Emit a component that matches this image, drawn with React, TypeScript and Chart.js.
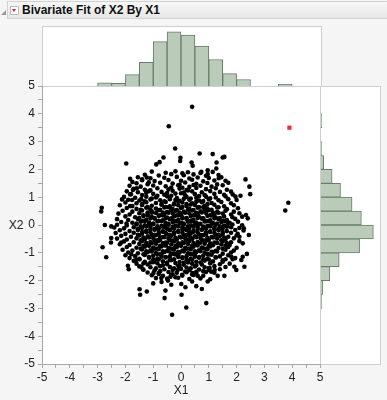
import React, { useEffect, useRef } from "react";
import { Chart, registerables } from "chart.js";

Chart.register(...registerables);

const TITLE = "Bivariate Fit of X2 By X1";
const X_LABEL = "X1";
const Y_LABEL = "X2";
const AXIS_MIN = -5;
const AXIS_MAX = 5;

// histogram bins (0.5 wide), given by their centres
const BIN_CENTERS = [-2.75, -2.25, -1.75, -1.25, -0.75, -0.25, 0.25, 0.75, 1.25, 1.75, 2.25, 2.75, 3.25, 3.75];
const X1_COUNTS = [6, 5, 21, 44, 82, 100, 94, 74, 49, 23, 12, 0, 0, 3];
const X2_COUNTS = [2, 4, 20, 41, 87, 118, 91, 70, 44, 25, 6, 2, 0, 2];
const X1_HIST_MAX = 111;
const X2_HIST_MAX = 133;

// highlighted (selected) row
const SELECTED_POINTS: number[][] = [[3.9, 3.5]];

// scatter points [X1, X2]
const SCATTER_POINTS: number[][] = [
  [0.40,4.25],[-0.44,3.55],[-0.21,2.75],[0.67,2.57],[1.14,2.55],[1.50,2.43],[1.56,2.45],[-0.63,2.43],[-0.02,2.42],[-0.03,2.30],
  [-1.97,2.21],[-0.89,2.18],[-0.77,2.26],[0.38,2.25],[0.42,2.13],[1.28,2.25],[1.27,2.03],[0.96,1.97],[1.14,1.91],[0.96,1.83],
  [0.73,1.91],[1.36,1.68],[1.60,1.59],[-1.83,1.66],[2.32,1.64],[2.46,1.38],[2.49,1.11],[2.14,1.05],[1.86,1.10],[1.96,1.02],
  [3.86,0.80],[3.75,0.52],[-2.12,0.92],[-2.85,0.62],[-2.87,0.49],[-2.74,0.0],[-2.51,-0.05],[-2.82,-0.80],[-2.69,-1.16],[-2.51,-0.47],
  [-2.52,-0.63],[-2.15,-0.63],[-1.96,0.05],[2.34,0.36],[2.40,0.24],[2.26,-0.12],[2.44,-0.36],[2.22,-0.66],[2.04,-0.32],[2.10,-0.42],
  [2.37,-1.04],[2.22,-1.14],[2.17,-1.26],[1.86,-1.23],[1.81,-1.14],[2.28,-1.50],[1.92,-1.50],[1.99,-1.62],[1.50,-1.32],[1.56,-1.83],
  [1.32,-1.83],[0.96,-2.03],[0.40,-2.03],[0.91,-2.81],[1.03,-1.55],[1.21,-1.62],[1.09,-1.68],[0.55,-1.68],[0.60,-1.83],[0.42,-1.73],
  [-1.40,1.64],[-1.23,1.71],[-1.16,1.54],[-1.73,1.26],[-1.59,1.32],[-1.83,1.10],[-1.76,0.90],[-1.83,0.68],[-1.43,0.93],
  [-1.91,-1.47],[-1.88,-1.59],[-1.79,-1.05],[-1.61,-1.26],[-1.49,-1.23],[-1.35,-1.38],[-1.43,-1.50],[-1.37,-1.59],[-0.99,-1.73],[-0.80,-1.76],
  [-0.71,-1.91],[-0.47,-2.00],[-0.38,-1.86],[-1.49,-2.31],[-1.47,-2.51],[-1.23,-2.39],[-0.56,-2.36],[-0.59,-2.63],[0.19,-2.97],[-0.32,-3.23],
  [0.01,-2.12],[0.16,-2.24],[-0.12,-1.62],[0.04,-1.79],[0.02,-2.51],
  [-1.05,1.92],[-0.55,1.88],[-0.2,1.93],[0.25,1.9],[0.7,1.87],[0.05,1.86],
  [-1.3,1.81],[-0.8,1.78],[-0.35,1.83],[0.1,1.79],[0.45,1.82],[0.9,1.77],[1.35,1.8],
  [-1.55,1.72],[-1.1,1.68],[-0.6,1.7],[-0.15,1.73],[0.3,1.67],[0.6,1.71],[1.0,1.69],[1.45,1.72],
  [-1.4,1.61],[-0.95,1.58],[-0.45,1.62],[0.0,1.59],[0.4,1.63],[0.8,1.57],[1.2,1.6],[-1.75,1.55],
  [-1.6,1.5],[-1.2,1.47],[-0.75,1.52],[-0.3,1.49],[0.15,1.53],[0.55,1.48],[0.95,1.51],[1.3,1.46],[1.7,1.52],[-0.05,1.45],
  [-1.85,1.41],[-1.45,1.38],[-1.0,1.42],[-0.55,1.39],[-0.1,1.43],[0.3,1.37],[0.7,1.41],[1.1,1.38],[1.5,1.43],[-0.35,1.35],[0.45,1.44],
  [-1.7,1.3],[-1.3,1.27],[-0.85,1.32],[-0.45,1.28],[-0.05,1.31],[0.2,1.26],[0.55,1.33],[0.9,1.29],[1.25,1.32],[1.65,1.27],[-1.1,1.25],[0.05,1.34],
  [-1.95,1.21],[-1.55,1.18],[-1.15,1.22],[-0.7,1.19],[-0.3,1.23],[0.1,1.17],[0.4,1.21],[0.75,1.18],[1.05,1.22],[1.4,1.19],[1.8,1.2],[-0.5,1.15],[0.25,1.24],
  [-1.8,1.11],[-1.4,1.08],[-1.0,1.12],[-0.6,1.09],[-0.2,1.13],[0.15,1.07],[0.5,1.11],[0.85,1.08],[1.2,1.12],[1.55,1.09],[-0.85,1.05],[0.0,1.14],[0.65,1.04],[-1.25,1.15],
  [-2.05,1.01],[-1.65,0.98],[-1.25,1.02],[-0.9,0.99],[-0.5,1.03],[-0.15,0.97],[0.2,1.01],[0.55,0.98],[0.9,1.02],[1.25,0.99],[1.6,1.03],[-0.35,1.05],[0.35,0.95],[1.05,0.96],[-1.05,0.95],
  [-1.9,0.91],[-1.5,0.88],[-1.1,0.92],[-0.75,0.89],[-0.4,0.93],[-0.05,0.87],[0.3,0.91],[0.65,0.88],[1.0,0.92],[1.35,0.89],[1.7,0.93],[2.0,0.9],[-1.3,0.85],[-0.6,0.85],[0.1,0.94],[0.8,0.86],[-0.2,0.9],
  [-2.0,0.81],[-1.6,0.78],[-1.25,0.82],[-0.9,0.79],[-0.55,0.83],[-0.25,0.77],[0.05,0.81],[0.4,0.78],[0.75,0.82],[1.1,0.79],[1.45,0.83],[1.8,0.78],[-1.4,0.75],[-0.7,0.75],[0.2,0.75],[0.95,0.75],[-0.1,0.84],[0.55,0.84],
  [-2.2,0.71],[-1.75,0.68],[-1.4,0.72],[-1.05,0.69],[-0.7,0.73],[-0.4,0.67],[-0.1,0.71],[0.2,0.68],[0.5,0.72],[0.85,0.69],[1.2,0.73],[1.55,0.67],[1.9,0.71],[-1.2,0.65],[-0.55,0.65],[0.05,0.65],[0.65,0.65],[1.35,0.64],[-0.25,0.74],[0.35,0.74],
  [-1.95,0.61],[-1.6,0.58],[-1.25,0.62],[-0.9,0.59],[-0.6,0.63],[-0.3,0.57],[0.0,0.61],[0.3,0.58],[0.6,0.62],[0.95,0.59],[1.3,0.63],[1.65,0.57],[2.05,0.6],[-1.45,0.55],[-0.75,0.55],[-0.15,0.54],[0.45,0.54],[1.1,0.55],[-1.1,0.56],[0.8,0.64],[-0.45,0.64],
  [-2.1,0.51],[-1.75,0.48],[-1.4,0.52],[-1.05,0.49],[-0.8,0.53],[-0.5,0.47],[-0.2,0.51],[0.1,0.48],[0.4,0.52],[0.7,0.49],[1.0,0.53],[1.3,0.47],[1.6,0.51],[1.9,0.48],[-1.2,0.45],[-0.65,0.45],[-0.05,0.45],[0.55,0.44],[1.15,0.45],[-0.35,0.54],[0.25,0.55],[0.85,0.55],
  [-2.25,0.41],[-1.85,0.38],[-1.5,0.42],[-1.2,0.39],[-0.9,0.43],[-0.6,0.37],[-0.3,0.41],[0.0,0.38],[0.3,0.42],[0.6,0.39],[0.9,0.43],[1.2,0.37],[1.5,0.41],[1.8,0.38],[2.1,0.42],[-1.35,0.35],[-0.75,0.35],[-0.15,0.35],[0.45,0.35],[1.05,0.35],[-1.05,0.44],[-0.45,0.44],[0.15,0.44],[0.75,0.45],[1.35,0.44],
  [-2.0,0.31],[-1.65,0.28],[-1.35,0.32],[-1.05,0.29],[-0.8,0.33],[-0.5,0.27],[-0.25,0.31],[0.05,0.28],[0.35,0.32],[0.65,0.29],[0.95,0.33],[1.25,0.27],[1.55,0.31],[1.85,0.28],[-1.5,0.25],[-0.95,0.25],[-0.35,0.24],[0.2,0.25],[0.8,0.24],[1.4,0.25],[-1.2,0.34],[-0.65,0.34],[-0.1,0.34],[0.5,0.35],[1.1,0.34],[2.2,0.3],
  [-2.3,0.21],[-1.9,0.18],[-1.55,0.22],[-1.25,0.19],[-0.95,0.23],[-0.65,0.17],[-0.4,0.21],[-0.1,0.18],[0.2,0.22],[0.45,0.19],[0.75,0.23],[1.05,0.17],[1.35,0.21],[1.65,0.18],[1.95,0.22],[-1.4,0.15],[-0.8,0.15],[-0.25,0.14],[0.35,0.15],[0.9,0.14],[1.5,0.15],[-1.1,0.24],[-0.55,0.24],[0.05,0.24],[0.6,0.25],[1.2,0.24],
  [-2.15,0.11],[-1.75,0.08],[-1.45,0.12],[-1.15,0.09],[-0.85,0.13],[-0.55,0.07],[-0.3,0.11],[0.0,0.08],[0.25,0.12],[0.55,0.09],[0.85,0.13],[1.15,0.07],[1.45,0.11],[1.75,0.08],[2.05,0.12],[-1.6,0.05],[-1.0,0.05],[-0.45,0.04],[0.1,0.05],[0.7,0.04],[1.3,0.05],[-1.3,0.14],[-0.7,0.14],[-0.15,0.14],[0.4,0.15],[1.0,0.14],[1.6,0.14],
  [-2.3,0.01],[-1.95,-0.02],[-1.6,0.02],[-1.3,-0.01],[-1.0,0.03],[-0.7,-0.03],[-0.45,0.01],[-0.2,-0.02],[0.1,0.02],[0.35,-0.01],[0.65,0.03],[0.95,-0.03],[1.25,0.01],[1.55,-0.02],[1.85,0.02],[2.2,-0.01],[-1.45,-0.05],[-0.85,-0.05],[-0.3,-0.06],[0.25,-0.05],[0.8,-0.06],[1.4,-0.05],[-1.15,0.04],[-0.55,0.04],[-0.05,0.05],[0.5,0.04],[1.1,0.04],[1.7,0.05],
  [-2.4,-0.09],[-2.05,-0.12],[-1.7,-0.08],[-1.4,-0.11],[-1.1,-0.07],[-0.8,-0.13],[-0.55,-0.09],[-0.25,-0.12],[0.05,-0.08],[0.3,-0.11],[0.6,-0.07],[0.9,-0.13],[1.2,-0.09],[1.5,-0.12],[1.8,-0.08],[2.1,-0.11],[-1.55,-0.15],[-0.95,-0.15],[-0.4,-0.16],[0.15,-0.15],[0.75,-0.16],[1.35,-0.15],[-1.25,-0.05],[-0.65,-0.06],[-0.1,-0.05],[0.45,-0.06],[1.05,-0.05],[1.65,-0.06],
  [-2.2,-0.19],[-1.85,-0.22],[-1.55,-0.18],[-1.25,-0.21],[-0.95,-0.17],[-0.65,-0.23],[-0.4,-0.19],[-0.1,-0.22],[0.2,-0.18],[0.45,-0.21],[0.75,-0.17],[1.05,-0.23],[1.35,-0.19],[1.65,-0.22],[1.95,-0.18],[-1.4,-0.25],[-0.8,-0.25],[-0.25,-0.26],[0.3,-0.25],[0.9,-0.26],[1.5,-0.25],[-1.1,-0.15],[-0.5,-0.14],[0.05,-0.15],[0.6,-0.14],[1.2,-0.15],[2.25,-0.2],
  [-2.35,-0.29],[-2.0,-0.32],[-1.7,-0.28],[-1.4,-0.31],[-1.1,-0.27],[-0.8,-0.33],[-0.55,-0.29],[-0.25,-0.32],[0.05,-0.28],[0.35,-0.31],[0.6,-0.27],[0.9,-0.33],[1.2,-0.29],[1.5,-0.32],[1.8,-0.28],[-1.55,-0.35],[-0.95,-0.35],[-0.4,-0.36],[0.2,-0.35],[0.75,-0.36],[1.35,-0.35],[-1.25,-0.25],[-0.65,-0.24],[-0.1,-0.25],[0.45,-0.24],[1.05,-0.25],
  [-2.15,-0.39],[-1.8,-0.42],[-1.5,-0.38],[-1.2,-0.41],[-0.9,-0.37],[-0.65,-0.43],[-0.35,-0.39],[-0.05,-0.42],[0.25,-0.38],[0.5,-0.41],[0.8,-0.37],[1.1,-0.43],[1.4,-0.39],[1.7,-0.42],[2.0,-0.38],[-1.35,-0.45],[-0.75,-0.45],[-0.2,-0.46],[0.35,-0.45],[0.95,-0.46],[1.55,-0.45],[-1.05,-0.35],[-0.5,-0.34],[0.1,-0.35],[0.65,-0.34],[1.25,-0.35],
  [-2.3,-0.49],[-1.95,-0.52],[-1.6,-0.48],[-1.3,-0.51],[-1.0,-0.47],[-0.75,-0.53],[-0.45,-0.49],[-0.15,-0.52],[0.15,-0.48],[0.4,-0.51],[0.7,-0.47],[1.0,-0.53],[1.3,-0.49],[1.6,-0.52],[1.9,-0.48],[-1.45,-0.55],[-0.85,-0.55],[-0.3,-0.56],[0.25,-0.55],[0.85,-0.56],[1.45,-0.55],[-1.15,-0.45],[-0.6,-0.44],[0.0,-0.45],[0.55,-0.44],[1.15,-0.45],
  [-2.05,-0.59],[-1.7,-0.62],[-1.4,-0.58],[-1.1,-0.61],[-0.8,-0.57],[-0.55,-0.63],[-0.25,-0.59],[0.05,-0.62],[0.3,-0.58],[0.6,-0.61],[0.9,-0.57],[1.2,-0.63],[1.5,-0.59],[1.8,-0.62],[2.1,-0.58],[-1.25,-0.65],[-0.65,-0.65],[-0.1,-0.66],[0.45,-0.65],[1.05,-0.66],[1.65,-0.65],[-0.95,-0.55],[-0.4,-0.54],[0.2,-0.55],[0.75,-0.54],
  [-2.2,-0.69],[-1.85,-0.72],[-1.5,-0.68],[-1.2,-0.71],[-0.9,-0.67],[-0.6,-0.73],[-0.35,-0.69],[-0.05,-0.72],[0.25,-0.68],[0.55,-0.71],[0.85,-0.67],[1.15,-0.73],[1.45,-0.69],[1.75,-0.72],[-1.35,-0.75],[-0.75,-0.75],[-0.2,-0.76],[0.4,-0.75],[1.0,-0.76],[1.6,-0.75],[-1.05,-0.65],[-0.5,-0.64],[0.1,-0.65],[0.7,-0.64],[1.3,-0.65],
  [-1.95,-0.79],[-1.6,-0.82],[-1.3,-0.78],[-1.0,-0.81],[-0.7,-0.77],[-0.45,-0.83],[-0.15,-0.79],[0.15,-0.82],[0.45,-0.78],[0.75,-0.81],[1.05,-0.77],[1.35,-0.83],[1.7,-0.79],[2.0,-0.82],[-1.45,-0.85],[-0.85,-0.85],[-0.3,-0.86],[0.3,-0.85],[0.9,-0.86],[1.5,-0.85],[-1.15,-0.75],[-0.55,-0.74],[0.0,-0.75],[0.6,-0.74],
  [-2.1,-0.89],[-1.75,-0.92],[-1.4,-0.88],[-1.1,-0.91],[-0.8,-0.87],[-0.5,-0.93],[-0.25,-0.89],[0.05,-0.92],[0.35,-0.88],[0.65,-0.91],[0.95,-0.87],[1.25,-0.93],[1.6,-0.89],[1.9,-0.92],[-1.25,-0.95],[-0.65,-0.95],[-0.1,-0.96],[0.5,-0.95],[1.1,-0.96],[-0.95,-0.85],[-0.4,-0.84],[0.2,-0.85],[0.8,-0.84],
  [-1.9,-0.99],[-1.55,-1.02],[-1.2,-0.98],[-0.9,-1.01],[-0.6,-0.97],[-0.35,-1.03],[-0.05,-0.99],[0.25,-1.02],[0.55,-0.98],[0.85,-1.01],[1.15,-0.97],[1.5,-1.03],[1.8,-0.99],[-1.35,-1.05],[-0.75,-1.05],[-0.2,-1.06],[0.4,-1.05],[1.0,-1.06],[-1.05,-0.95],[-0.45,-0.94],[0.1,-0.95],[0.7,-0.94],[1.3,-0.95],
  [-2.0,-1.09],[-1.65,-1.12],[-1.3,-1.08],[-1.0,-1.11],[-0.7,-1.07],[-0.4,-1.13],[-0.1,-1.09],[0.2,-1.12],[0.5,-1.08],[0.8,-1.11],[1.1,-1.07],[1.4,-1.13],[1.7,-1.09],[-1.15,-1.15],[-0.55,-1.15],[0.05,-1.16],[0.65,-1.15],[1.25,-1.16],[-0.85,-1.05],[-0.25,-1.04],[0.35,-1.05],[0.95,-1.04],
  [-1.85,-1.19],[-1.5,-1.22],[-1.15,-1.18],[-0.85,-1.21],[-0.55,-1.17],[-0.25,-1.23],[0.05,-1.19],[0.35,-1.22],[0.65,-1.18],[0.95,-1.21],[1.25,-1.17],[1.6,-1.23],[1.95,-1.19],[-1.0,-1.25],[-0.4,-1.25],[0.2,-1.26],[0.8,-1.25],[-0.7,-1.14],[-0.1,-1.15],[0.5,-1.14],
  [-1.7,-1.29],[-1.3,-1.32],[-0.95,-1.28],[-0.65,-1.31],[-0.35,-1.27],[-0.05,-1.33],[0.25,-1.29],[0.55,-1.32],[0.85,-1.28],[1.15,-1.31],[1.5,-1.27],[-1.1,-1.35],[-0.5,-1.35],[0.1,-1.36],[0.7,-1.35],[-0.8,-1.24],[0.4,-1.25],[1.0,-1.24],
  [-1.6,-1.39],[-1.2,-1.42],[-0.85,-1.38],[-0.5,-1.41],[-0.2,-1.37],[0.1,-1.43],[0.4,-1.39],[0.75,-1.42],[1.05,-1.38],[1.4,-1.41],[1.75,-1.39],[-0.65,-1.45],[-0.05,-1.46],[0.55,-1.45],[-1.0,-1.34],[0.25,-1.35],
  [-1.5,-1.49],[-1.1,-1.52],[-0.75,-1.48],[-0.4,-1.51],[-0.1,-1.47],[0.2,-1.53],[0.5,-1.49],[0.85,-1.52],[1.2,-1.48],[1.6,-1.51],[-0.9,-1.56],[-0.25,-1.56],[0.35,-1.56],[1.0,-1.55],
  [-1.35,-1.61],[-0.95,-1.63],[-0.6,-1.59],[-0.3,-1.62],[0.0,-1.58],[0.3,-1.63],[0.65,-1.6],[1.0,-1.62],[1.4,-1.59],[-0.75,-1.66],[0.15,-1.67],[0.8,-1.66],
  [-1.2,-1.71],[-0.8,-1.73],[-0.45,-1.69],[-0.15,-1.72],[0.2,-1.7],[0.55,-1.73],[0.9,-1.69],[1.2,-1.72],[-0.3,-1.77],[0.4,-1.78],
  [-1.05,-1.81],[-0.65,-1.83],[-0.35,-1.79],[0.05,-1.82],[0.45,-1.8],[0.8,-1.83],[-0.2,-1.88],
  [-0.9,-1.91],[-0.5,-1.93],[-0.1,-1.9],[0.3,-1.94],[0.7,-1.92],[1.05,-1.95],
  [-1.0,-2.1],[-0.35,-2.15],[0.55,-2.2],[-0.7,-2.05],[0.75,-2.3]
];

const FONT = "'Liberation Sans', Arial, sans-serif";
const TEXT_COLOR = "#222222";
const BAR_FILL = "rgb(186,203,186)";
const BAR_EDGE = "rgb(104,124,104)";
const FRAME = "#cfcfcf";
const AXIS_COLOR = "#a8a8a8";
const BG = "#f5f5f5";

export default function App() {
  const mainRef = useRef<HTMLCanvasElement>(null);
  const topRef = useRef<HTMLCanvasElement>(null);
  const rightRef = useRef<HTMLCanvasElement>(null);

  useEffect(() => {
    const charts: Chart[] = [];
    const tickLabel = (v: any) => (Number.isInteger(Number(v)) ? String(v) : "");

    if (topRef.current) {
      charts.push(
        new Chart(topRef.current, {
          type: "bar",
          data: {
            datasets: [
              {
                data: BIN_CENTERS.map((c, i) => ({ x: c, y: X1_COUNTS[i] })),
                backgroundColor: BAR_FILL,
                borderColor: BAR_EDGE,
                borderWidth: 1,
                barPercentage: 1,
                categoryPercentage: 1,
              },
            ],
          },
          options: {
            animation: false,
            responsive: false,
            layout: { padding: 0 },
            plugins: { legend: { display: false }, tooltip: { enabled: false } },
            scales: {
              x: { type: "linear", min: AXIS_MIN, max: AXIS_MAX, offset: false, display: false },
              y: { type: "linear", min: 0, max: X1_HIST_MAX, display: false },
            },
          },
        } as any)
      );
    }

    if (rightRef.current) {
      charts.push(
        new Chart(rightRef.current, {
          type: "bar",
          data: {
            datasets: [
              {
                data: BIN_CENTERS.map((c, i) => ({ x: X2_COUNTS[i], y: c })),
                backgroundColor: BAR_FILL,
                borderColor: BAR_EDGE,
                borderWidth: 1,
                barPercentage: 1,
                categoryPercentage: 1,
              },
            ],
          },
          options: {
            indexAxis: "y",
            animation: false,
            responsive: false,
            layout: { padding: 0 },
            plugins: { legend: { display: false }, tooltip: { enabled: false } },
            scales: {
              y: { type: "linear", min: AXIS_MIN, max: AXIS_MAX, offset: false, display: false },
              x: { type: "linear", min: 0, max: X2_HIST_MAX, display: false },
            },
          },
        } as any)
      );
    }

    if (mainRef.current) {
      charts.push(
        new Chart(mainRef.current, {
          type: "scatter",
          data: {
            datasets: [
              {
                data: SCATTER_POINTS.map(([x, y]) => ({ x, y })),
                pointRadius: 2.3,
                pointBackgroundColor: "#000000",
                pointBorderWidth: 0,
                showLine: false,
              },
              {
                data: SELECTED_POINTS.map(([x, y]) => ({ x, y })),
                pointStyle: "rect",
                pointRadius: 3,
                pointBackgroundColor: "#e8303c",
                pointBorderWidth: 0,
                showLine: false,
              },
            ],
          },
          options: {
            animation: false,
            responsive: false,
            layout: { padding: { top: 86, right: 67, left: 0, bottom: 0 } },
            plugins: { legend: { display: false }, tooltip: { enabled: false } },
            scales: {
              x: {
                type: "linear",
                min: AXIS_MIN,
                max: AXIS_MAX,
                afterFit: (s: any) => {
                  s.height = 36;
                },
                ticks: {
                  stepSize: 0.5,
                  autoSkip: false,
                  maxRotation: 0,
                  padding: 2,
                  color: TEXT_COLOR,
                  font: { family: FONT, size: 12 },
                  callback: tickLabel,
                },
                grid: { drawOnChartArea: false, drawTicks: true, tickLength: 4, color: AXIS_COLOR },
                border: { display: true, color: AXIS_COLOR },
                title: {
                  display: true,
                  text: X_LABEL,
                  color: TEXT_COLOR,
                  font: { family: FONT, size: 12 },
                  padding: { top: 0, bottom: 2 },
                },
              },
              y: {
                type: "linear",
                min: AXIS_MIN,
                max: AXIS_MAX,
                afterFit: (s: any) => {
                  s.width = 42;
                },
                ticks: {
                  stepSize: 0.5,
                  autoSkip: false,
                  padding: 3,
                  color: TEXT_COLOR,
                  font: { family: FONT, size: 12 },
                  callback: tickLabel,
                },
                grid: { drawOnChartArea: false, drawTicks: true, tickLength: 4, color: AXIS_COLOR },
                border: { display: true, color: AXIS_COLOR },
              },
            },
          },
        } as any)
      );
    }

    return () => charts.forEach((c) => c.destroy());
  }, []);

  const abs = (l: number, t: number, w: number, h: number, extra: any = {}) => ({
    position: "absolute" as const,
    left: l,
    top: t,
    width: w,
    height: h,
    boxSizing: "border-box" as const,
    ...extra,
  });

  return (
    <div style={{ position: "fixed", left: 0, top: 0, width: 387, height: 400, background: BG, overflow: "hidden", fontFamily: FONT }}>
      {/* outline header */}
      <div style={abs(7, 1, 382, 18, { background: "linear-gradient(#f7f7f7,#e6e6e6)", border: "1px solid #d2d2d2", borderRight: "none" })} />
      <div style={abs(1, 10, 0, 0, { borderLeft: "5px solid transparent", borderBottom: "5px solid #9a9a9a" })} />
      <div style={abs(10, 6, 9, 9, { background: "#ffffff", border: "1px solid #b8b8b8", borderRadius: 1 })} />
      <div style={abs(12, 9, 0, 0, { borderLeft: "2.5px solid transparent", borderRight: "2.5px solid transparent", borderTop: "3px solid #d8202a" })} />
      <div style={abs(22, 3, 200, 15, { fontWeight: "bold", fontSize: 12, lineHeight: "15px", color: "#111", whiteSpace: "nowrap" })}>{TITLE}</div>

      {/* plot frames */}
      <div style={abs(42, 26, 280, 61, { background: "#ffffff", border: `1px solid ${FRAME}`, borderBottom: "none" })} />
      <div style={abs(42, 86, 339, 279, { background: "#ffffff", border: `1px solid ${FRAME}` })} />
      <div style={abs(320, 86, 1, 279, { background: FRAME })} />

      {/* Y axis label (horizontal, JMP style) */}
      <div style={abs(4, 217, 24, 16, { fontSize: 12, lineHeight: "16px", color: TEXT_COLOR, textAlign: "center" })}>{Y_LABEL}</div>

      <canvas ref={topRef} width={278} height={60} style={abs(42, 26, 278, 60)} />
      <canvas ref={rightRef} width={59} height={278} style={abs(321, 86, 59, 278)} />
      <canvas ref={mainRef} width={387} height={400} style={abs(0, 0, 387, 400)} />
    </div>
  );
}
